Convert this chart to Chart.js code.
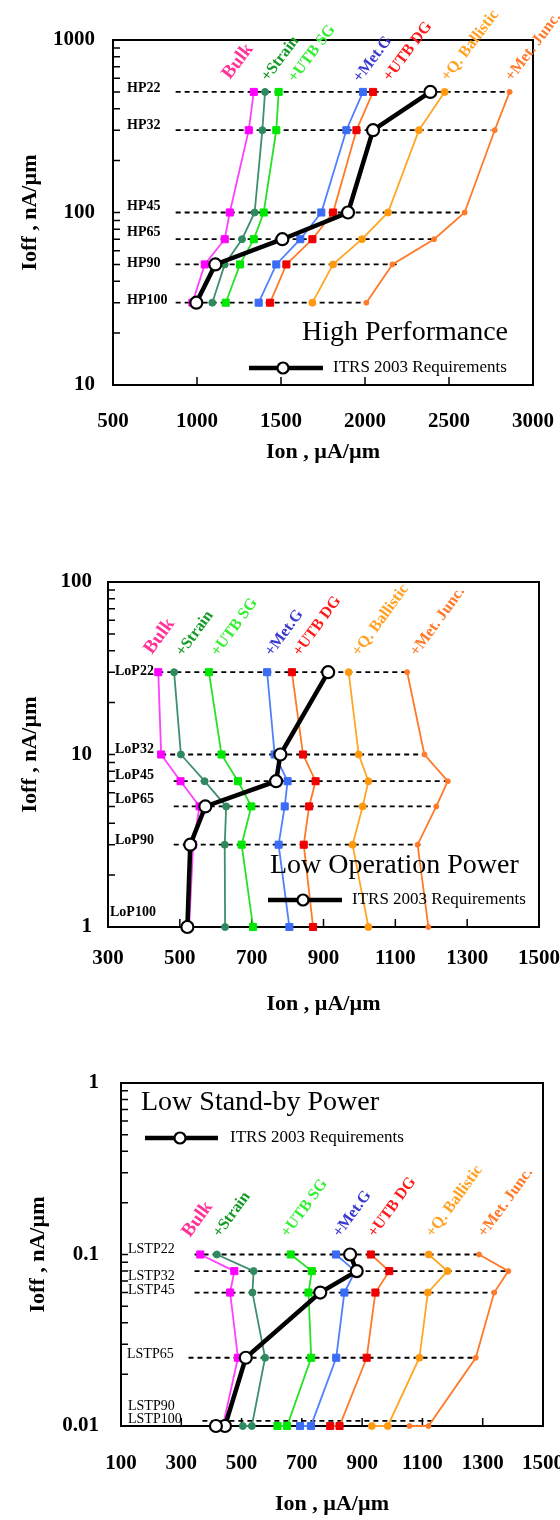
<!DOCTYPE html>
<html>
<head>
<meta charset="utf-8">
<script src="https://cdn.jsdelivr.net/npm/chart.js@4.4.1/dist/chart.umd.min.js"></script>
<style>
html,body{margin:0;padding:0;background:#fff;}
#wrap{position:relative;width:560px;height:1520px;overflow:hidden;background:#fff;}
canvas{position:absolute;left:0;display:block;}
</style>
</head>
<body>
<div id="wrap">
<canvas id="c1" width="560" height="480" style="top:0px"></canvas>
<canvas id="c2" width="560" height="540" style="top:480px"></canvas>
<canvas id="c3" width="560" height="500" style="top:1020px"></canvas>
</div>
<script>
// ---------------- DATA ----------------
const seriesNames = ['Bulk', '+Strain', '+UTB SG', '+Met.G', '+UTB DG', '+Q. Ballistic', '+Met. Junc.'];

// High Performance
const hpNodes = ['HP22', 'HP32', 'HP45', 'HP65', 'HP90', 'HP100'];
const hpIoff = [500, 300, 100, 70, 50, 30];
const hpBulk = [1338, 1308, 1195, 1165, 1046, 973];
const hpStrain = [1405, 1389, 1343, 1268, 1165, 1091];
const hpUtbSg = [1486, 1472, 1397, 1338, 1256, 1171];
const hpMetG = [1988, 1889, 1740, 1615, 1472, 1367];
const hpUtbDg = [2048, 1949, 1810, 1687, 1532, 1435];
const hpQBall = [2474, 2321, 2137, 1982, 1810, 1687];
const hpMetJ = [2861, 2772, 2593, 2411, 2163, 2008];
const hpItrs = [2389, 2048, 1899, 1508, 1109, 996];
const hpDashIoff = [500, 300, 100, 70, 50, 30];
const hpDashStart = [873, 873, 873, 873, 873, 873];
const hpDashEnd = [2855, 2752, 2580, 2405, 2195, 2008];
const hpXTicks = [500, 1000, 1500, 2000, 2500, 3000];
const hpYTicks = [10, 100, 1000];

// Low Operation Power
const lopNodes = ['LoP22', 'LoP32', 'LoP45', 'LoP65', 'LoP90', 'LoP100'];
const lopIoff = [30, 10, 7, 5, 3, 1];
const lopBulk = [440, 448, 502, 555, 537, 526];
const lopStrain = [484, 503, 569, 629, 625, 626];
const lopUtbSg = [581, 616, 662, 699, 672, 704];
const lopMetG = [743, 764, 800, 792, 775, 805];
const lopUtbDg = [812, 843, 878, 860, 845, 871];
const lopQBall = [970, 998, 1025, 1009, 981, 1025];
const lopMetJ = [1133, 1181, 1246, 1214, 1162, 1192];
const lopItrs = [913, 780, 768, 571, 529, 521];
const lopDashIoff = [30, 10, 7, 5, 3];
const lopDashStart = [440, 448, 483, 483, 483];
const lopDashEnd = [1140, 1185, 1246, 1214, 1170];
const lopXTicks = [300, 500, 700, 900, 1100, 1300, 1500];
const lopYTicks = [1, 10, 100];

// Low Stand-by Power
const lstpNodes = ['LSTP22', 'LSTP32', 'LSTP45', 'LSTP65', 'LSTP90', 'LSTP100'];
const lstpIoff = [0.1, 0.08, 0.06, 0.025, 0.01, 0.01];
const lstpBulk = [363, 476, 462, 488, 438, 410];
const lstpStrain = [418, 540, 536, 578, 534, 504];
const lstpUtbSg = [663, 733, 722, 731, 651, 619];
const lstpMetG = [813, 877, 841, 814, 730, 694];
const lstpUtbDg = [929, 990, 944, 915, 825, 794];
const lstpQBall = [1121, 1183, 1118, 1090, 985, 932];
const lstpMetJ = [1288, 1385, 1338, 1277, 1120, 1057];
const lstpItrs = [860, 882, 761, 514, 445, 415];
const lstpDashIoff = [0.1, 0.08, 0.06, 0.025, 0.0107];
const lstpDashStart = [344, 344, 344, 324, 370];
const lstpDashEnd = [1288, 1390, 1357, 1280, 1136];
const lstpXTicks = [100, 300, 500, 700, 900, 1100, 1300, 1500];
const lstpYTicks = [0.01, 0.1, 1];

// ---------------- STYLES ----------------
const FONT = 'Liberation Serif';
const seriesStyle = [
  {line: '#ff40ff', mark: '#ff00ff', text: '#ff3399', shape: 'rect', r: 5},
  {line: '#3f8f6c', mark: '#2e8a5e', text: '#129a24', shape: 'circle', r: 3.5},
  {line: '#28e028', mark: '#00e800', text: '#33ee33', shape: 'rect', r: 5},
  {line: '#5080ff', mark: '#3a6cf5', text: '#3a3ad0', shape: 'rect', r: 5},
  {line: '#ff7a26', mark: '#ee0000', text: '#ff1a1a', shape: 'rect', r: 5},
  {line: '#ffa624', mark: '#ff9a10', text: '#ffa020', shape: 'circle', r: 3.5},
  {line: '#ff7a2a', mark: '#ff7a2a', text: '#ff7a2a', shape: 'circle', r: 2.5}
];

function pts(xs, ys) { return xs.map((v, i) => ({x: v, y: ys[i]})); }

function buildDatasets(ioff, series, itrs, dIoff, dStart, dEnd) {
  const ds = [];
  dIoff.forEach((v, i) => {
    ds.push({data: [{x: dStart[i], y: v}, {x: dEnd[i], y: v}], showLine: true,
      borderColor: '#000', borderWidth: 1.8, borderDash: [5, 4], pointRadius: 0, order: 10, clip: false});
  });
  series.forEach((vals, k) => {
    const st = seriesStyle[k];
    ds.push({data: pts(vals, ioff), showLine: true, borderColor: st.line, borderWidth: 1.8,
      pointStyle: st.shape, pointRadius: st.r, pointBackgroundColor: st.mark, pointBorderColor: st.mark,
      pointBorderWidth: 1, order: 5, clip: false});
  });
  ds.push({data: pts(itrs, ioff), showLine: true, borderColor: '#000', borderWidth: 4.5,
    pointStyle: 'circle', pointRadius: 6, pointBackgroundColor: '#fff', pointBorderColor: '#000',
    pointBorderWidth: 2.2, order: 1, clip: false});
  return ds;
}

const decor = {
  id: 'decor',
  beforeDatasetsDraw(chart, args, o) {
    const {ctx, chartArea: a, scales: {x, y}} = chart;
    ctx.save();
    ctx.strokeStyle = '#000';
    ctx.lineWidth = 2;
    ctx.strokeRect(a.left, a.top, a.right - a.left, a.bottom - a.top);
    ctx.lineWidth = 1.5;
    ctx.beginPath();
    const lo = Math.round(Math.log10(y.min)), hi = Math.round(Math.log10(y.max));
    for (let e = lo; e < hi; e++) {
      for (let k = 1; k <= 9; k++) {
        const py = y.getPixelForValue(k * Math.pow(10, e));
        ctx.moveTo(a.left, py); ctx.lineTo(a.left + 7, py);
      }
    }
    x.ticks.forEach(t => {
      const px = x.getPixelForValue(t.value);
      if (px > a.left + 2 && px < a.right - 2) { ctx.moveTo(px, a.bottom); ctx.lineTo(px, a.bottom - 8); }
    });
    ctx.stroke();
    ctx.restore();
  },
  afterDatasetsDraw(chart, args, o) {
    const {ctx, scales: {y}} = chart;
    ctx.save();
    // node labels
    ctx.fillStyle = '#000';
    ctx.font = o.nodeFont;
    ctx.textBaseline = 'middle';
    ctx.textAlign = 'left';
    o.nodes.forEach((n, i) => {
      ctx.fillText(n, o.nodeX[i], y.getPixelForValue(o.nodeIoff[i]) + o.nodeDy[i]);
    });
    // series labels (rotated)
    ctx.textBaseline = 'alphabetic';
    seriesNames.forEach((s, i) => {
      ctx.save();
      ctx.translate(o.labelPos[i][0], o.labelPos[i][1]);
      ctx.rotate(o.angle * Math.PI / 180);
      ctx.font = 'bold ' + (i === 0 ? 19 : 16) + 'px ' + FONT;
      ctx.fillStyle = seriesStyle[i].text;
      ctx.fillText(s, 0, 0);
      ctx.restore();
    });
    // panel title
    ctx.fillStyle = '#000';
    ctx.font = '28px ' + FONT;
    ctx.textBaseline = 'middle';
    ctx.fillText(o.title, o.titleX, o.titleY);
    // legend
    const L = o.legend;
    ctx.strokeStyle = '#000';
    ctx.lineWidth = 4.5;
    ctx.beginPath(); ctx.moveTo(L.x1, L.y); ctx.lineTo(L.x2, L.y); ctx.stroke();
    ctx.beginPath(); ctx.arc(L.cx, L.y, 5.5, 0, Math.PI * 2);
    ctx.fillStyle = '#fff'; ctx.fill(); ctx.lineWidth = 2.2; ctx.stroke();
    ctx.fillStyle = '#000';
    ctx.font = '17px ' + FONT;
    ctx.fillText('ITRS 2003 Requirements', L.tx, L.y);
    ctx.restore();
  }
};

function makeChart(id, cfg) {
  const tickFont = {family: FONT, size: 21, weight: 'bold'};
  const titleFont = {family: FONT, size: 22, weight: 'bold', lineHeight: 1.2};
  return new Chart(document.getElementById(id), {
    type: 'scatter',
    data: {datasets: cfg.datasets},
    plugins: [decor],
    options: {
      responsive: false, animation: false, events: [],
      layout: {padding: {left: 0, right: cfg.padRight, top: cfg.padTop, bottom: 0}},
      plugins: {legend: {display: false}, tooltip: {enabled: false}, decor: cfg.decor},
      scales: {
        x: {
          type: 'linear', min: cfg.xTicks[0], max: cfg.xTicks[cfg.xTicks.length - 1],
          afterBuildTicks: s => { s.ticks = cfg.xTicks.map(v => ({value: v})); },
          ticks: {font: tickFont, color: '#000', padding: cfg.xPad, maxRotation: 0, autoSkip: false, callback: v => String(v)},
          grid: {display: false, drawTicks: false}, border: {display: false},
          title: {display: true, text: 'Ion , µA/µm', color: '#000', font: titleFont, padding: {top: 0, bottom: cfg.xTitlePad}},
          afterFit: s => { s.height = cfg.xHeight; s.paddingLeft = 0; s.paddingRight = 0; }
        },
        y: {
          type: 'logarithmic', min: cfg.yTicks[0], max: cfg.yTicks[cfg.yTicks.length - 1],
          afterBuildTicks: s => { s.ticks = cfg.yTicks.map(v => ({value: v})); },
          ticks: {font: tickFont, color: '#000', padding: cfg.yPad, callback: v => String(v)},
          grid: {display: false, drawTicks: false}, border: {display: false},
          title: {display: true, text: 'Ioff , nA/µm', color: '#000', font: titleFont, padding: {top: cfg.yTitlePad, bottom: 0}},
          afterFit: s => { s.width = cfg.yWidth; s.paddingTop = 0; s.paddingBottom = 0; }
        }
      }
    }
  });
}

makeChart('c1', {
  datasets: buildDatasets(hpIoff, [hpBulk, hpStrain, hpUtbSg, hpMetG, hpUtbDg, hpQBall, hpMetJ], hpItrs, hpDashIoff, hpDashStart, hpDashEnd),
  xTicks: hpXTicks, yTicks: hpYTicks,
  padTop: 40, padRight: 27, yWidth: 113, xHeight: 95,
  xPad: 24, yPad: 18, xTitlePad: 14, yTitlePad: 17,
  decor: {
    nodes: hpNodes, nodeIoff: hpIoff, nodeX: [127, 127, 127, 127, 127, 127], nodeDy: [-4, -5, -6, -7, -1, -2],
    nodeFont: 'bold 14px ' + FONT,
    labelPos: [[230, 80], [268, 82], [295, 83], [360, 83], [390, 82], [448, 82], [512, 82]], angle: -53,
    title: 'High Performance', titleX: 302, titleY: 333,
    legend: {x1: 249, x2: 323, y: 368, cx: 283, tx: 333}
  }
});

makeChart('c2', {
  datasets: buildDatasets(lopIoff, [lopBulk, lopStrain, lopUtbSg, lopMetG, lopUtbDg, lopQBall, lopMetJ], lopItrs, lopDashIoff, lopDashStart, lopDashEnd),
  xTicks: lopXTicks, yTicks: lopYTicks,
  padTop: 102, padRight: 21, yWidth: 108, xHeight: 93,
  xPad: 19, yPad: 16, xTitlePad: 2, yTitlePad: 17,
  decor: {
    nodes: lopNodes, nodeIoff: lopIoff, nodeX: [115, 115, 115, 115, 115, 110], nodeDy: [-1, -5, -6, -7, -4, -15],
    nodeFont: 'bold 14px ' + FONT,
    labelPos: [[152, 175], [183, 177], [218, 177], [272, 177], [300, 177], [359, 177], [417, 177]], angle: -54,
    title: 'Low Operation Power', titleX: 270, titleY: 386,
    legend: {x1: 268, x2: 342, y: 420, cx: 303, tx: 352}
  }
});

makeChart('c3', {
  datasets: buildDatasets(lstpIoff, [lstpBulk, lstpStrain, lstpUtbSg, lstpMetG, lstpUtbDg, lstpQBall, lstpMetJ], lstpItrs, lstpDashIoff, lstpDashStart, lstpDashEnd),
  xTicks: lstpXTicks, yTicks: lstpYTicks,
  padTop: 63, padRight: 17, yWidth: 121, xHeight: 94,
  xPad: 25, yPad: 22, xTitlePad: 2, yTitlePad: 25,
  decor: {
    nodes: lstpNodes, nodeIoff: lstpIoff, nodeX: [128, 128, 128, 127, 128, 128], nodeDy: [-5, 5, -2, -3, -20, -7],
    nodeFont: '14px ' + FONT,
    labelPos: [[190, 218], [220, 218], [288, 218], [340, 218], [375, 218], [433, 218], [485, 218]], angle: -54,
    title: 'Low Stand-by Power', titleX: 141, titleY: 83,
    legend: {x1: 145, x2: 218, y: 118, cx: 180, tx: 230}
  }
});
</script>
</body>
</html>
